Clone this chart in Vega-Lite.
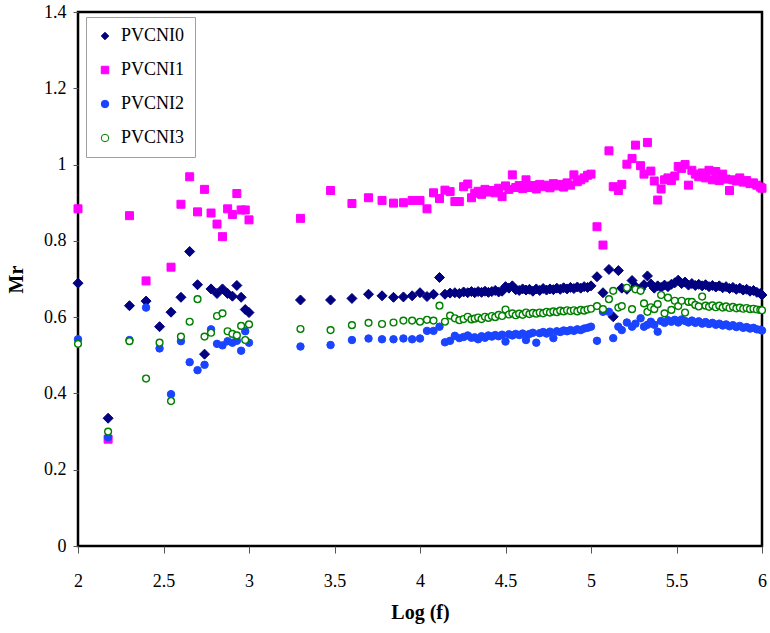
{
  "$schema": "https://vega.github.io/schema/vega-lite/v6.json",
  "autosize": {"type": "none"},
  "width": 684,
  "height": 534,
  "padding": {"left": 78, "top": 12, "right": 8, "bottom": 87},
  "background": "white",
  "data": {"values": [
    {"logf":2.000,"series":"PVCNI0","mr":0.689},{"logf":2.176,"series":"PVCNI0","mr":0.335},{"logf":2.301,"series":"PVCNI0","mr":0.630},{"logf":2.398,"series":"PVCNI0","mr":0.642},{"logf":2.477,"series":"PVCNI0","mr":0.575},{"logf":2.544,"series":"PVCNI0","mr":0.613},{"logf":2.602,"series":"PVCNI0","mr":0.652},{"logf":2.653,"series":"PVCNI0","mr":0.772},{"logf":2.699,"series":"PVCNI0","mr":0.685},{"logf":2.740,"series":"PVCNI0","mr":0.503},{"logf":2.778,"series":"PVCNI0","mr":0.674},{"logf":2.813,"series":"PVCNI0","mr":0.662},{"logf":2.845,"series":"PVCNI0","mr":0.674},{"logf":2.875,"series":"PVCNI0","mr":0.662},{"logf":2.903,"series":"PVCNI0","mr":0.655},{"logf":2.929,"series":"PVCNI0","mr":0.683},{"logf":2.954,"series":"PVCNI0","mr":0.652},{"logf":2.978,"series":"PVCNI0","mr":0.620},{"logf":3.000,"series":"PVCNI0","mr":0.612},
    {"logf":3.301,"series":"PVCNI0","mr":0.645},{"logf":3.477,"series":"PVCNI0","mr":0.645},{"logf":3.602,"series":"PVCNI0","mr":0.649},{"logf":3.699,"series":"PVCNI0","mr":0.660},{"logf":3.778,"series":"PVCNI0","mr":0.656},{"logf":3.845,"series":"PVCNI0","mr":0.652},{"logf":3.903,"series":"PVCNI0","mr":0.653},{"logf":3.954,"series":"PVCNI0","mr":0.656},{"logf":4.000,"series":"PVCNI0","mr":0.664},
    {"logf":4.041,"series":"PVCNI0","mr":0.654},{"logf":4.079,"series":"PVCNI0","mr":0.660},{"logf":4.114,"series":"PVCNI0","mr":0.704},{"logf":4.146,"series":"PVCNI0","mr":0.660},{"logf":4.176,"series":"PVCNI0","mr":0.663},{"logf":4.204,"series":"PVCNI0","mr":0.664},{"logf":4.230,"series":"PVCNI0","mr":0.662},{"logf":4.255,"series":"PVCNI0","mr":0.666},{"logf":4.279,"series":"PVCNI0","mr":0.664},{"logf":4.301,"series":"PVCNI0","mr":0.667},
    {"logf":4.32,"series":"PVCNI0","mr":0.664},{"logf":4.34,"series":"PVCNI0","mr":0.667},{"logf":4.36,"series":"PVCNI0","mr":0.665},{"logf":4.38,"series":"PVCNI0","mr":0.668},{"logf":4.40,"series":"PVCNI0","mr":0.665},{"logf":4.42,"series":"PVCNI0","mr":0.667},{"logf":4.44,"series":"PVCNI0","mr":0.670},{"logf":4.46,"series":"PVCNI0","mr":0.666},{"logf":4.48,"series":"PVCNI0","mr":0.668},{"logf":4.50,"series":"PVCNI0","mr":0.680},{"logf":4.52,"series":"PVCNI0","mr":0.676},{"logf":4.54,"series":"PVCNI0","mr":0.682},{"logf":4.56,"series":"PVCNI0","mr":0.672},{"logf":4.58,"series":"PVCNI0","mr":0.670},{"logf":4.60,"series":"PVCNI0","mr":0.674},{"logf":4.62,"series":"PVCNI0","mr":0.671},{"logf":4.64,"series":"PVCNI0","mr":0.673},{"logf":4.66,"series":"PVCNI0","mr":0.668},{"logf":4.68,"series":"PVCNI0","mr":0.674},{"logf":4.70,"series":"PVCNI0","mr":0.670},{"logf":4.72,"series":"PVCNI0","mr":0.675},{"logf":4.74,"series":"PVCNI0","mr":0.671},{"logf":4.76,"series":"PVCNI0","mr":0.674},{"logf":4.78,"series":"PVCNI0","mr":0.672},{"logf":4.80,"series":"PVCNI0","mr":0.676},{"logf":4.82,"series":"PVCNI0","mr":0.673},{"logf":4.84,"series":"PVCNI0","mr":0.677},{"logf":4.86,"series":"PVCNI0","mr":0.674},{"logf":4.88,"series":"PVCNI0","mr":0.678},{"logf":4.90,"series":"PVCNI0","mr":0.675},{"logf":4.92,"series":"PVCNI0","mr":0.679},{"logf":4.94,"series":"PVCNI0","mr":0.676},{"logf":4.96,"series":"PVCNI0","mr":0.680},{"logf":4.98,"series":"PVCNI0","mr":0.678},{"logf":5.00,"series":"PVCNI0","mr":0.682},
    {"logf":5.035,"series":"PVCNI0","mr":0.706},{"logf":5.07,"series":"PVCNI0","mr":0.664},{"logf":5.105,"series":"PVCNI0","mr":0.725},{"logf":5.13,"series":"PVCNI0","mr":0.601},{"logf":5.16,"series":"PVCNI0","mr":0.722},{"logf":5.18,"series":"PVCNI0","mr":0.676},{"logf":5.21,"series":"PVCNI0","mr":0.673},{"logf":5.24,"series":"PVCNI0","mr":0.696},{"logf":5.26,"series":"PVCNI0","mr":0.680},{"logf":5.29,"series":"PVCNI0","mr":0.673},{"logf":5.31,"series":"PVCNI0","mr":0.685},{"logf":5.33,"series":"PVCNI0","mr":0.708},{"logf":5.35,"series":"PVCNI0","mr":0.687},{"logf":5.37,"series":"PVCNI0","mr":0.676},{"logf":5.39,"series":"PVCNI0","mr":0.682},{"logf":5.41,"series":"PVCNI0","mr":0.678},{"logf":5.43,"series":"PVCNI0","mr":0.684},{"logf":5.45,"series":"PVCNI0","mr":0.680},
    {"logf":5.47,"series":"PVCNI0","mr":0.686},{"logf":5.49,"series":"PVCNI0","mr":0.690},{"logf":5.51,"series":"PVCNI0","mr":0.697},{"logf":5.53,"series":"PVCNI0","mr":0.688},{"logf":5.55,"series":"PVCNI0","mr":0.692},{"logf":5.57,"series":"PVCNI0","mr":0.684},{"logf":5.59,"series":"PVCNI0","mr":0.688},{"logf":5.61,"series":"PVCNI0","mr":0.683},{"logf":5.63,"series":"PVCNI0","mr":0.686},{"logf":5.65,"series":"PVCNI0","mr":0.682},{"logf":5.67,"series":"PVCNI0","mr":0.685},{"logf":5.69,"series":"PVCNI0","mr":0.680},{"logf":5.71,"series":"PVCNI0","mr":0.683},{"logf":5.73,"series":"PVCNI0","mr":0.679},{"logf":5.75,"series":"PVCNI0","mr":0.682},{"logf":5.77,"series":"PVCNI0","mr":0.677},{"logf":5.79,"series":"PVCNI0","mr":0.680},{"logf":5.81,"series":"PVCNI0","mr":0.675},{"logf":5.83,"series":"PVCNI0","mr":0.678},{"logf":5.85,"series":"PVCNI0","mr":0.673},{"logf":5.87,"series":"PVCNI0","mr":0.676},{"logf":5.89,"series":"PVCNI0","mr":0.671},{"logf":5.91,"series":"PVCNI0","mr":0.673},{"logf":5.93,"series":"PVCNI0","mr":0.668},{"logf":5.95,"series":"PVCNI0","mr":0.670},{"logf":5.97,"series":"PVCNI0","mr":0.665},{"logf":5.99,"series":"PVCNI0","mr":0.662},{"logf":6.00,"series":"PVCNI0","mr":0.658},

    {"logf":2.000,"series":"PVCNI1","mr":0.884},{"logf":2.176,"series":"PVCNI1","mr":0.280},{"logf":2.301,"series":"PVCNI1","mr":0.866},{"logf":2.398,"series":"PVCNI1","mr":0.695},{"logf":2.544,"series":"PVCNI1","mr":0.731},{"logf":2.602,"series":"PVCNI1","mr":0.896},{"logf":2.653,"series":"PVCNI1","mr":0.968},{"logf":2.699,"series":"PVCNI1","mr":0.876},{"logf":2.740,"series":"PVCNI1","mr":0.935},{"logf":2.778,"series":"PVCNI1","mr":0.873},{"logf":2.813,"series":"PVCNI1","mr":0.844},{"logf":2.845,"series":"PVCNI1","mr":0.811},{"logf":2.875,"series":"PVCNI1","mr":0.884},{"logf":2.903,"series":"PVCNI1","mr":0.869},{"logf":2.929,"series":"PVCNI1","mr":0.924},{"logf":2.954,"series":"PVCNI1","mr":0.881},{"logf":2.978,"series":"PVCNI1","mr":0.881},{"logf":3.000,"series":"PVCNI1","mr":0.855},
    {"logf":3.301,"series":"PVCNI1","mr":0.859},{"logf":3.477,"series":"PVCNI1","mr":0.932},{"logf":3.602,"series":"PVCNI1","mr":0.898},{"logf":3.699,"series":"PVCNI1","mr":0.913},{"logf":3.778,"series":"PVCNI1","mr":0.906},{"logf":3.845,"series":"PVCNI1","mr":0.899},{"logf":3.903,"series":"PVCNI1","mr":0.900},{"logf":3.954,"series":"PVCNI1","mr":0.906},{"logf":4.000,"series":"PVCNI1","mr":0.906},
    {"logf":4.041,"series":"PVCNI1","mr":0.884},{"logf":4.079,"series":"PVCNI1","mr":0.926},{"logf":4.114,"series":"PVCNI1","mr":0.911},{"logf":4.146,"series":"PVCNI1","mr":0.933},{"logf":4.176,"series":"PVCNI1","mr":0.929},{"logf":4.204,"series":"PVCNI1","mr":0.903},{"logf":4.230,"series":"PVCNI1","mr":0.903},{"logf":4.255,"series":"PVCNI1","mr":0.942},{"logf":4.279,"series":"PVCNI1","mr":0.949},{"logf":4.301,"series":"PVCNI1","mr":0.913},
    {"logf":4.32,"series":"PVCNI1","mr":0.925},{"logf":4.34,"series":"PVCNI1","mr":0.930},{"logf":4.36,"series":"PVCNI1","mr":0.922},{"logf":4.38,"series":"PVCNI1","mr":0.935},{"logf":4.40,"series":"PVCNI1","mr":0.928},{"logf":4.42,"series":"PVCNI1","mr":0.932},{"logf":4.44,"series":"PVCNI1","mr":0.926},{"logf":4.46,"series":"PVCNI1","mr":0.938},{"logf":4.48,"series":"PVCNI1","mr":0.916},{"logf":4.50,"series":"PVCNI1","mr":0.944},{"logf":4.52,"series":"PVCNI1","mr":0.935},{"logf":4.54,"series":"PVCNI1","mr":0.973},{"logf":4.56,"series":"PVCNI1","mr":0.940},{"logf":4.58,"series":"PVCNI1","mr":0.945},{"logf":4.60,"series":"PVCNI1","mr":0.937},{"logf":4.62,"series":"PVCNI1","mr":0.960},{"logf":4.64,"series":"PVCNI1","mr":0.940},{"logf":4.66,"series":"PVCNI1","mr":0.945},{"logf":4.68,"series":"PVCNI1","mr":0.936},{"logf":4.70,"series":"PVCNI1","mr":0.948},{"logf":4.72,"series":"PVCNI1","mr":0.942},{"logf":4.74,"series":"PVCNI1","mr":0.946},{"logf":4.76,"series":"PVCNI1","mr":0.939},{"logf":4.78,"series":"PVCNI1","mr":0.950},{"logf":4.80,"series":"PVCNI1","mr":0.944},{"logf":4.82,"series":"PVCNI1","mr":0.948},{"logf":4.84,"series":"PVCNI1","mr":0.941},{"logf":4.86,"series":"PVCNI1","mr":0.952},{"logf":4.88,"series":"PVCNI1","mr":0.946},{"logf":4.90,"series":"PVCNI1","mr":0.973},{"logf":4.92,"series":"PVCNI1","mr":0.955},{"logf":4.94,"series":"PVCNI1","mr":0.960},{"logf":4.96,"series":"PVCNI1","mr":0.965},{"logf":4.98,"series":"PVCNI1","mr":0.972},{"logf":5.00,"series":"PVCNI1","mr":0.975},
    {"logf":5.035,"series":"PVCNI1","mr":0.837},{"logf":5.07,"series":"PVCNI1","mr":0.789},{"logf":5.105,"series":"PVCNI1","mr":1.036},{"logf":5.13,"series":"PVCNI1","mr":0.942},{"logf":5.16,"series":"PVCNI1","mr":0.932},{"logf":5.18,"series":"PVCNI1","mr":0.948},{"logf":5.21,"series":"PVCNI1","mr":1.001},{"logf":5.24,"series":"PVCNI1","mr":1.016},{"logf":5.26,"series":"PVCNI1","mr":1.051},{"logf":5.29,"series":"PVCNI1","mr":0.997},{"logf":5.31,"series":"PVCNI1","mr":0.975},{"logf":5.33,"series":"PVCNI1","mr":1.058},{"logf":5.35,"series":"PVCNI1","mr":0.983},{"logf":5.37,"series":"PVCNI1","mr":0.957},{"logf":5.39,"series":"PVCNI1","mr":0.907},{"logf":5.41,"series":"PVCNI1","mr":0.936},{"logf":5.43,"series":"PVCNI1","mr":0.960},{"logf":5.45,"series":"PVCNI1","mr":0.965},
    {"logf":5.47,"series":"PVCNI1","mr":0.958},{"logf":5.49,"series":"PVCNI1","mr":0.970},{"logf":5.51,"series":"PVCNI1","mr":0.995},{"logf":5.53,"series":"PVCNI1","mr":0.990},{"logf":5.55,"series":"PVCNI1","mr":1.000},{"logf":5.57,"series":"PVCNI1","mr":0.946},{"logf":5.59,"series":"PVCNI1","mr":0.985},{"logf":5.61,"series":"PVCNI1","mr":0.975},{"logf":5.63,"series":"PVCNI1","mr":0.968},{"logf":5.65,"series":"PVCNI1","mr":0.978},{"logf":5.67,"series":"PVCNI1","mr":0.965},{"logf":5.69,"series":"PVCNI1","mr":0.985},{"logf":5.71,"series":"PVCNI1","mr":0.960},{"logf":5.73,"series":"PVCNI1","mr":0.982},{"logf":5.75,"series":"PVCNI1","mr":0.958},{"logf":5.77,"series":"PVCNI1","mr":0.975},{"logf":5.79,"series":"PVCNI1","mr":0.962},{"logf":5.81,"series":"PVCNI1","mr":0.932},{"logf":5.83,"series":"PVCNI1","mr":0.960},{"logf":5.85,"series":"PVCNI1","mr":0.957},{"logf":5.87,"series":"PVCNI1","mr":0.965},{"logf":5.89,"series":"PVCNI1","mr":0.954},{"logf":5.91,"series":"PVCNI1","mr":0.958},{"logf":5.93,"series":"PVCNI1","mr":0.950},{"logf":5.95,"series":"PVCNI1","mr":0.952},{"logf":5.97,"series":"PVCNI1","mr":0.946},{"logf":5.99,"series":"PVCNI1","mr":0.941},{"logf":6.00,"series":"PVCNI1","mr":0.938},

    {"logf":2.000,"series":"PVCNI2","mr":0.542},{"logf":2.176,"series":"PVCNI2","mr":0.285},{"logf":2.301,"series":"PVCNI2","mr":0.540},{"logf":2.398,"series":"PVCNI2","mr":0.625},{"logf":2.477,"series":"PVCNI2","mr":0.518},{"logf":2.544,"series":"PVCNI2","mr":0.398},{"logf":2.602,"series":"PVCNI2","mr":0.537},{"logf":2.653,"series":"PVCNI2","mr":0.482},{"logf":2.699,"series":"PVCNI2","mr":0.461},{"logf":2.740,"series":"PVCNI2","mr":0.475},{"logf":2.778,"series":"PVCNI2","mr":0.568},{"logf":2.813,"series":"PVCNI2","mr":0.530},{"logf":2.845,"series":"PVCNI2","mr":0.526},{"logf":2.875,"series":"PVCNI2","mr":0.537},{"logf":2.903,"series":"PVCNI2","mr":0.533},{"logf":2.929,"series":"PVCNI2","mr":0.538},{"logf":2.954,"series":"PVCNI2","mr":0.512},{"logf":2.978,"series":"PVCNI2","mr":0.563},{"logf":3.000,"series":"PVCNI2","mr":0.533},
    {"logf":3.301,"series":"PVCNI2","mr":0.523},{"logf":3.477,"series":"PVCNI2","mr":0.527},{"logf":3.602,"series":"PVCNI2","mr":0.540},{"logf":3.699,"series":"PVCNI2","mr":0.544},{"logf":3.778,"series":"PVCNI2","mr":0.542},{"logf":3.845,"series":"PVCNI2","mr":0.542},{"logf":3.903,"series":"PVCNI2","mr":0.544},{"logf":3.954,"series":"PVCNI2","mr":0.542},{"logf":4.000,"series":"PVCNI2","mr":0.544},
    {"logf":4.041,"series":"PVCNI2","mr":0.564},{"logf":4.079,"series":"PVCNI2","mr":0.564},{"logf":4.114,"series":"PVCNI2","mr":0.575},{"logf":4.146,"series":"PVCNI2","mr":0.534},{"logf":4.176,"series":"PVCNI2","mr":0.538},{"logf":4.204,"series":"PVCNI2","mr":0.551},{"logf":4.230,"series":"PVCNI2","mr":0.545},{"logf":4.255,"series":"PVCNI2","mr":0.548},{"logf":4.279,"series":"PVCNI2","mr":0.552},{"logf":4.301,"series":"PVCNI2","mr":0.546},
    {"logf":4.32,"series":"PVCNI2","mr":0.547},{"logf":4.34,"series":"PVCNI2","mr":0.542},{"logf":4.36,"series":"PVCNI2","mr":0.550},{"logf":4.38,"series":"PVCNI2","mr":0.546},{"logf":4.40,"series":"PVCNI2","mr":0.552},{"logf":4.42,"series":"PVCNI2","mr":0.549},{"logf":4.44,"series":"PVCNI2","mr":0.553},{"logf":4.46,"series":"PVCNI2","mr":0.550},{"logf":4.48,"series":"PVCNI2","mr":0.554},{"logf":4.50,"series":"PVCNI2","mr":0.536},{"logf":4.52,"series":"PVCNI2","mr":0.555},{"logf":4.54,"series":"PVCNI2","mr":0.552},{"logf":4.56,"series":"PVCNI2","mr":0.556},{"logf":4.58,"series":"PVCNI2","mr":0.553},{"logf":4.60,"series":"PVCNI2","mr":0.557},{"logf":4.62,"series":"PVCNI2","mr":0.540},{"logf":4.64,"series":"PVCNI2","mr":0.556},{"logf":4.66,"series":"PVCNI2","mr":0.559},{"logf":4.68,"series":"PVCNI2","mr":0.533},{"logf":4.70,"series":"PVCNI2","mr":0.558},{"logf":4.72,"series":"PVCNI2","mr":0.561},{"logf":4.74,"series":"PVCNI2","mr":0.557},{"logf":4.76,"series":"PVCNI2","mr":0.562},{"logf":4.78,"series":"PVCNI2","mr":0.545},{"logf":4.80,"series":"PVCNI2","mr":0.563},{"logf":4.82,"series":"PVCNI2","mr":0.561},{"logf":4.84,"series":"PVCNI2","mr":0.565},{"logf":4.86,"series":"PVCNI2","mr":0.563},{"logf":4.88,"series":"PVCNI2","mr":0.566},{"logf":4.90,"series":"PVCNI2","mr":0.564},{"logf":4.92,"series":"PVCNI2","mr":0.568},{"logf":4.94,"series":"PVCNI2","mr":0.566},{"logf":4.96,"series":"PVCNI2","mr":0.570},{"logf":4.98,"series":"PVCNI2","mr":0.572},{"logf":5.00,"series":"PVCNI2","mr":0.575},
    {"logf":5.035,"series":"PVCNI2","mr":0.538},{"logf":5.07,"series":"PVCNI2","mr":0.614},{"logf":5.105,"series":"PVCNI2","mr":0.614},{"logf":5.13,"series":"PVCNI2","mr":0.545},{"logf":5.16,"series":"PVCNI2","mr":0.575},{"logf":5.18,"series":"PVCNI2","mr":0.566},{"logf":5.21,"series":"PVCNI2","mr":0.586},{"logf":5.24,"series":"PVCNI2","mr":0.575},{"logf":5.26,"series":"PVCNI2","mr":0.583},{"logf":5.29,"series":"PVCNI2","mr":0.597},{"logf":5.31,"series":"PVCNI2","mr":0.575},{"logf":5.33,"series":"PVCNI2","mr":0.580},{"logf":5.35,"series":"PVCNI2","mr":0.588},{"logf":5.37,"series":"PVCNI2","mr":0.580},{"logf":5.39,"series":"PVCNI2","mr":0.562},{"logf":5.41,"series":"PVCNI2","mr":0.590},{"logf":5.43,"series":"PVCNI2","mr":0.585},{"logf":5.45,"series":"PVCNI2","mr":0.592},
    {"logf":5.47,"series":"PVCNI2","mr":0.588},{"logf":5.49,"series":"PVCNI2","mr":0.593},{"logf":5.51,"series":"PVCNI2","mr":0.586},{"logf":5.53,"series":"PVCNI2","mr":0.594},{"logf":5.55,"series":"PVCNI2","mr":0.590},{"logf":5.57,"series":"PVCNI2","mr":0.586},{"logf":5.59,"series":"PVCNI2","mr":0.591},{"logf":5.61,"series":"PVCNI2","mr":0.585},{"logf":5.63,"series":"PVCNI2","mr":0.589},{"logf":5.65,"series":"PVCNI2","mr":0.583},{"logf":5.67,"series":"PVCNI2","mr":0.587},{"logf":5.69,"series":"PVCNI2","mr":0.582},{"logf":5.71,"series":"PVCNI2","mr":0.585},{"logf":5.73,"series":"PVCNI2","mr":0.580},{"logf":5.75,"series":"PVCNI2","mr":0.583},{"logf":5.77,"series":"PVCNI2","mr":0.578},{"logf":5.79,"series":"PVCNI2","mr":0.581},{"logf":5.81,"series":"PVCNI2","mr":0.576},{"logf":5.83,"series":"PVCNI2","mr":0.579},{"logf":5.85,"series":"PVCNI2","mr":0.574},{"logf":5.87,"series":"PVCNI2","mr":0.577},{"logf":5.89,"series":"PVCNI2","mr":0.572},{"logf":5.91,"series":"PVCNI2","mr":0.574},{"logf":5.93,"series":"PVCNI2","mr":0.570},{"logf":5.95,"series":"PVCNI2","mr":0.572},{"logf":5.97,"series":"PVCNI2","mr":0.568},{"logf":5.99,"series":"PVCNI2","mr":0.567},{"logf":6.00,"series":"PVCNI2","mr":0.565},

    {"logf":2.000,"series":"PVCNI3","mr":0.530},{"logf":2.176,"series":"PVCNI3","mr":0.300},{"logf":2.301,"series":"PVCNI3","mr":0.537},{"logf":2.398,"series":"PVCNI3","mr":0.439},{"logf":2.477,"series":"PVCNI3","mr":0.533},{"logf":2.544,"series":"PVCNI3","mr":0.380},{"logf":2.602,"series":"PVCNI3","mr":0.549},{"logf":2.653,"series":"PVCNI3","mr":0.588},{"logf":2.699,"series":"PVCNI3","mr":0.647},{"logf":2.740,"series":"PVCNI3","mr":0.549},{"logf":2.778,"series":"PVCNI3","mr":0.559},{"logf":2.813,"series":"PVCNI3","mr":0.603},{"logf":2.845,"series":"PVCNI3","mr":0.610},{"logf":2.875,"series":"PVCNI3","mr":0.563},{"logf":2.903,"series":"PVCNI3","mr":0.556},{"logf":2.929,"series":"PVCNI3","mr":0.552},{"logf":2.954,"series":"PVCNI3","mr":0.577},{"logf":2.978,"series":"PVCNI3","mr":0.540},{"logf":3.000,"series":"PVCNI3","mr":0.581},
    {"logf":3.301,"series":"PVCNI3","mr":0.569},{"logf":3.477,"series":"PVCNI3","mr":0.566},{"logf":3.602,"series":"PVCNI3","mr":0.579},{"logf":3.699,"series":"PVCNI3","mr":0.585},{"logf":3.778,"series":"PVCNI3","mr":0.582},{"logf":3.845,"series":"PVCNI3","mr":0.586},{"logf":3.903,"series":"PVCNI3","mr":0.591},{"logf":3.954,"series":"PVCNI3","mr":0.591},{"logf":4.000,"series":"PVCNI3","mr":0.588},
    {"logf":4.041,"series":"PVCNI3","mr":0.593},{"logf":4.079,"series":"PVCNI3","mr":0.591},{"logf":4.114,"series":"PVCNI3","mr":0.630},{"logf":4.146,"series":"PVCNI3","mr":0.588},{"logf":4.176,"series":"PVCNI3","mr":0.604},{"logf":4.204,"series":"PVCNI3","mr":0.597},{"logf":4.230,"series":"PVCNI3","mr":0.592},{"logf":4.255,"series":"PVCNI3","mr":0.595},{"logf":4.279,"series":"PVCNI3","mr":0.601},{"logf":4.301,"series":"PVCNI3","mr":0.594},
    {"logf":4.32,"series":"PVCNI3","mr":0.596},{"logf":4.34,"series":"PVCNI3","mr":0.599},{"logf":4.36,"series":"PVCNI3","mr":0.595},{"logf":4.38,"series":"PVCNI3","mr":0.601},{"logf":4.40,"series":"PVCNI3","mr":0.598},{"logf":4.42,"series":"PVCNI3","mr":0.603},{"logf":4.44,"series":"PVCNI3","mr":0.600},{"logf":4.46,"series":"PVCNI3","mr":0.606},{"logf":4.48,"series":"PVCNI3","mr":0.603},{"logf":4.50,"series":"PVCNI3","mr":0.620},{"logf":4.52,"series":"PVCNI3","mr":0.607},{"logf":4.54,"series":"PVCNI3","mr":0.610},{"logf":4.56,"series":"PVCNI3","mr":0.605},{"logf":4.58,"series":"PVCNI3","mr":0.609},{"logf":4.60,"series":"PVCNI3","mr":0.606},{"logf":4.62,"series":"PVCNI3","mr":0.612},{"logf":4.64,"series":"PVCNI3","mr":0.608},{"logf":4.66,"series":"PVCNI3","mr":0.611},{"logf":4.68,"series":"PVCNI3","mr":0.609},{"logf":4.70,"series":"PVCNI3","mr":0.612},{"logf":4.72,"series":"PVCNI3","mr":0.610},{"logf":4.74,"series":"PVCNI3","mr":0.614},{"logf":4.76,"series":"PVCNI3","mr":0.612},{"logf":4.78,"series":"PVCNI3","mr":0.615},{"logf":4.80,"series":"PVCNI3","mr":0.613},{"logf":4.82,"series":"PVCNI3","mr":0.617},{"logf":4.84,"series":"PVCNI3","mr":0.615},{"logf":4.86,"series":"PVCNI3","mr":0.618},{"logf":4.88,"series":"PVCNI3","mr":0.616},{"logf":4.90,"series":"PVCNI3","mr":0.618},{"logf":4.92,"series":"PVCNI3","mr":0.615},{"logf":4.94,"series":"PVCNI3","mr":0.619},{"logf":4.96,"series":"PVCNI3","mr":0.617},{"logf":4.98,"series":"PVCNI3","mr":0.620},{"logf":5.00,"series":"PVCNI3","mr":0.622},
    {"logf":5.035,"series":"PVCNI3","mr":0.629},{"logf":5.07,"series":"PVCNI3","mr":0.621},{"logf":5.105,"series":"PVCNI3","mr":0.647},{"logf":5.13,"series":"PVCNI3","mr":0.669},{"logf":5.16,"series":"PVCNI3","mr":0.625},{"logf":5.18,"series":"PVCNI3","mr":0.629},{"logf":5.21,"series":"PVCNI3","mr":0.677},{"logf":5.24,"series":"PVCNI3","mr":0.621},{"logf":5.26,"series":"PVCNI3","mr":0.673},{"logf":5.29,"series":"PVCNI3","mr":0.669},{"logf":5.31,"series":"PVCNI3","mr":0.636},{"logf":5.33,"series":"PVCNI3","mr":0.614},{"logf":5.35,"series":"PVCNI3","mr":0.626},{"logf":5.37,"series":"PVCNI3","mr":0.621},{"logf":5.39,"series":"PVCNI3","mr":0.634},{"logf":5.41,"series":"PVCNI3","mr":0.658},{"logf":5.43,"series":"PVCNI3","mr":0.610},{"logf":5.45,"series":"PVCNI3","mr":0.651},
    {"logf":5.47,"series":"PVCNI3","mr":0.619},{"logf":5.49,"series":"PVCNI3","mr":0.643},{"logf":5.51,"series":"PVCNI3","mr":0.629},{"logf":5.53,"series":"PVCNI3","mr":0.643},{"logf":5.55,"series":"PVCNI3","mr":0.612},{"logf":5.57,"series":"PVCNI3","mr":0.640},{"logf":5.59,"series":"PVCNI3","mr":0.640},{"logf":5.61,"series":"PVCNI3","mr":0.632},{"logf":5.63,"series":"PVCNI3","mr":0.628},{"logf":5.65,"series":"PVCNI3","mr":0.654},{"logf":5.67,"series":"PVCNI3","mr":0.630},{"logf":5.69,"series":"PVCNI3","mr":0.627},{"logf":5.71,"series":"PVCNI3","mr":0.631},{"logf":5.73,"series":"PVCNI3","mr":0.626},{"logf":5.75,"series":"PVCNI3","mr":0.630},{"logf":5.77,"series":"PVCNI3","mr":0.625},{"logf":5.79,"series":"PVCNI3","mr":0.628},{"logf":5.81,"series":"PVCNI3","mr":0.624},{"logf":5.83,"series":"PVCNI3","mr":0.627},{"logf":5.85,"series":"PVCNI3","mr":0.623},{"logf":5.87,"series":"PVCNI3","mr":0.625},{"logf":5.89,"series":"PVCNI3","mr":0.622},{"logf":5.91,"series":"PVCNI3","mr":0.624},{"logf":5.93,"series":"PVCNI3","mr":0.621},{"logf":5.95,"series":"PVCNI3","mr":0.622},{"logf":5.97,"series":"PVCNI3","mr":0.620},{"logf":5.99,"series":"PVCNI3","mr":0.619},{"logf":6.00,"series":"PVCNI3","mr":0.618}
  ]},
  "encoding": {
    "x": {"field": "logf", "type": "quantitative", "scale": {"domain": [2, 6], "nice": false, "zero": false},
      "axis": {"title": "Log (f)", "values": [2, 2.5, 3, 3.5, 4, 4.5, 5, 5.5, 6], "format": "~g", "labelFlush": false, "labelOverlap": false, "tickSize": 7, "labelPadding": 19, "titleX": 342, "titleY": 56, "titleBaseline": "top"}},
    "y": {"field": "mr", "type": "quantitative", "scale": {"domain": [0, 1.4], "nice": false, "zero": true},
      "axis": {"title": "Mr", "values": [0, 0.2, 0.4, 0.6, 0.8, 1, 1.2, 1.4], "format": "~g", "labelFlush": false, "labelOverlap": false, "tickSize": 5, "labelPadding": 7, "titleX": -52, "titleY": 267, "titleAngle": -90, "titleBaseline": "bottom"}},
    "shape": {"field": "series", "type": "nominal", "scale": {"domain": ["PVCNI0", "PVCNI1", "PVCNI2", "PVCNI3"], "range": ["diamond", "square", "circle", "circle"]}, "title": null,
      "legend": {"orient": "none", "legendX": 8, "legendY": 5}},
    "fill": {"field": "series", "type": "nominal", "scale": {"domain": ["PVCNI0", "PVCNI1", "PVCNI2", "PVCNI3"], "range": ["#000080", "#ff00ff", "#1a44ff", "#ffffff"]}, "title": null,
      "legend": {"orient": "none", "legendX": 8, "legendY": 5}},
    "stroke": {"field": "series", "type": "nominal", "scale": {"domain": ["PVCNI0", "PVCNI1", "PVCNI2", "PVCNI3"], "range": ["#000080", "#ff00ff", "#1a44ff", "#008000"]}, "title": null,
      "legend": {"orient": "none", "legendX": 8, "legendY": 5}}
  },
  "layer": [
    {"transform": [{"filter": "datum.series === 'PVCNI0'"}], "mark": {"type": "point", "size": 100, "strokeWidth": 1, "opacity": 1}},
    {"transform": [{"filter": "datum.series === 'PVCNI1'"}], "mark": {"type": "point", "size": 64, "strokeWidth": 1, "opacity": 1}},
    {"transform": [{"filter": "datum.series === 'PVCNI2'"}], "mark": {"type": "point", "size": 56, "strokeWidth": 1, "opacity": 1}},
    {"transform": [{"filter": "datum.series === 'PVCNI3'"}], "mark": {"type": "point", "size": 46, "strokeWidth": 1.4, "opacity": 1}}
  ],
  "config": {
    "view": {"stroke": "black", "strokeWidth": 2.5},
    "axis": {"labelFont": "Liberation Serif", "labelFontSize": 18, "labelColor": "black", "titleFont": "Liberation Serif", "titleFontSize": 20, "titleFontWeight": "bold", "titleColor": "black", "domain": false, "grid": false, "ticks": true, "tickColor": "#555", "tickWidth": 1},
    "legend": {"padding": 10, "strokeColor": "#a0a0a0", "strokeWidth": 1, "symbolSize": 56, "symbolStrokeWidth": 1, "labelFont": "Liberation Serif", "labelFontSize": 18, "labelColor": "black", "rowPadding": 16, "labelOffset": 7, "labelLimit": 200}
  }
}
